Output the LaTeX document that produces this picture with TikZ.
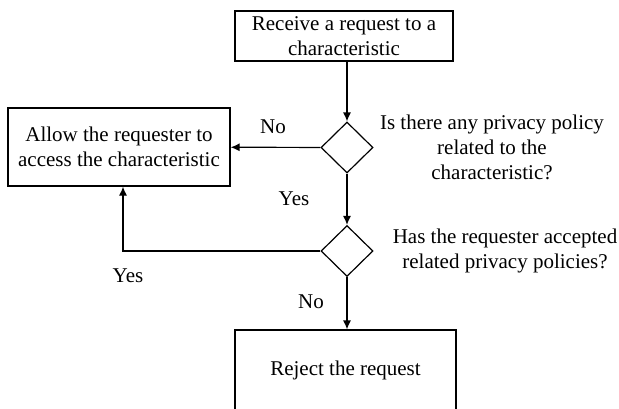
\documentclass[tikz,border=0pt]{standalone}
\usepackage{fontspec}
\setmainfont{Liberation Serif}
\usetikzlibrary{shapes.geometric,arrows.meta}

\begin{document}
\begin{tikzpicture}[x=1pt,y=-1pt,line width=1.2pt,>={Latex[length=9pt,width=8pt]},
    font=\fontsize{21}{25}\selectfont,
    box/.style={draw,align=center,inner sep=0pt},
    decision/.style={draw,diamond,inner sep=0pt,minimum width=52pt,minimum height=51pt}]
    \useasboundingbox (0,0) rectangle (619,408);
    % Draw the boxes
    \node[box, minimum width=218pt, minimum height=50pt] (receive) at (344,36) {Receive a request to a\\characteristic};
    \node[box, minimum width=222pt, minimum height=78pt] (allow) at (119,147) {Allow the requester to\\access the characteristic};
    \node[box, minimum width=221pt, minimum height=80pt] (reject) at (345.5,370) {Reject the request};
    % Draw the decisions
    \node[decision] (policy) at (347,147.5) {};
    \node[decision] (accepted) at (347,251) {};
    \node[align=center] (qpolicy) at (492,147) {Is there any privacy policy\\related to the\\characteristic?};
    \node[align=center] (qaccepted) at (505,251) {Has the requester accepted\\related privacy policies?};
    % Draw the arrows
    \draw[->] (receive.south -| policy.north) -- (policy);
    \draw[->] (policy) -- (allow);
    \draw[->] (policy) -- (accepted);
    \draw[->] (accepted.west) -| ([xshift=4pt]allow.south);
    \draw[->] (accepted) -- (accepted |- reject.north);
    \node (no1) at (273,127) {No};
    \node (yes1) at (294,199) {Yes};
    \node (yes2) at (128,276) {Yes};
    \node (no2) at (311,302) {No};
\end{tikzpicture}
\end{document}
